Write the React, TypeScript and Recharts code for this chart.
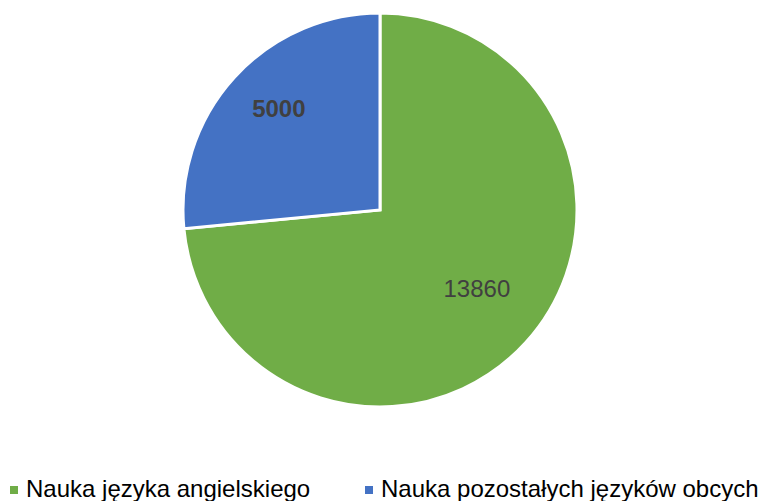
import React from "react";
import { PieChart, Pie, Cell, Legend } from "recharts";

const categories = ["Nauka języka angielskiego", "Nauka pozostałych języków obcych"];
const values = [13860, 5000];
const colors = ["#70AD47", "#4472C4"];
const labelRadius = [125, 143];
const labelAngleShift = [3.1, -2.7];
const labelWeight = ["normal", "bold"];

const data = categories.map((name, i) => ({ name, value: values[i] }));

const RAD = Math.PI / 180;

const renderLabel = (props: any) => {
  const { cx, cy, midAngle, index, value } = props;
  const r = labelRadius[index];
  const a = midAngle + labelAngleShift[index];
  const x = cx + r * Math.cos(-a * RAD);
  const y = cy + r * Math.sin(-a * RAD);
  return (
    <text
      x={x}
      y={y}
      fill="#404040"
      textAnchor="middle"
      dominantBaseline="central"
      fontFamily="'Liberation Sans', Arial, sans-serif"
      fontSize={24}
      fontWeight={labelWeight[index] as any}
    >
      {value}
    </text>
  );
};

const legendX = [10, 365];

const renderLegend = (props: any) => {
  const { payload } = props;
  return (
    <div style={{ position: "relative", width: 761, height: 30 }}>
      {payload.map((entry: any, i: number) => (
        <div
          key={i}
          style={{
            position: "absolute",
            left: legendX[i],
            top: 0,
            display: "flex",
            alignItems: "center",
            fontFamily: "'Liberation Sans', Arial, sans-serif",
            fontSize: 24,
            color: "#000",
            whiteSpace: "nowrap",
          }}
        >
          <span
            style={{
              display: "inline-block",
              width: 8,
              height: 8,
              background: entry.color,
              marginRight: 8,
              position: "relative",
              top: 1,
            }}
          />
          {entry.value}
        </div>
      ))}
    </div>
  );
};

export default function App() {
  return (
    <div style={{ position: "absolute", left: 0, top: 0, background: "#fff" }}>
      <PieChart width={761} height={501}>
        <Pie
          data={data}
          dataKey="value"
          nameKey="name"
          cx={375}
          cy={205}
          outerRadius={197}
          startAngle={90}
          endAngle={-270}
          stroke="#fff"
          strokeWidth={3}
          label={renderLabel}
          labelLine={false}
          isAnimationActive={false}
        >
          {data.map((d, i) => (
            <Cell key={d.name} fill={colors[i]} />
          ))}
        </Pie>
        <Legend
          content={renderLegend}
          wrapperStyle={{ position: "absolute", left: 0, top: 475, width: 761 }}
        />
      </PieChart>
    </div>
  );
}
